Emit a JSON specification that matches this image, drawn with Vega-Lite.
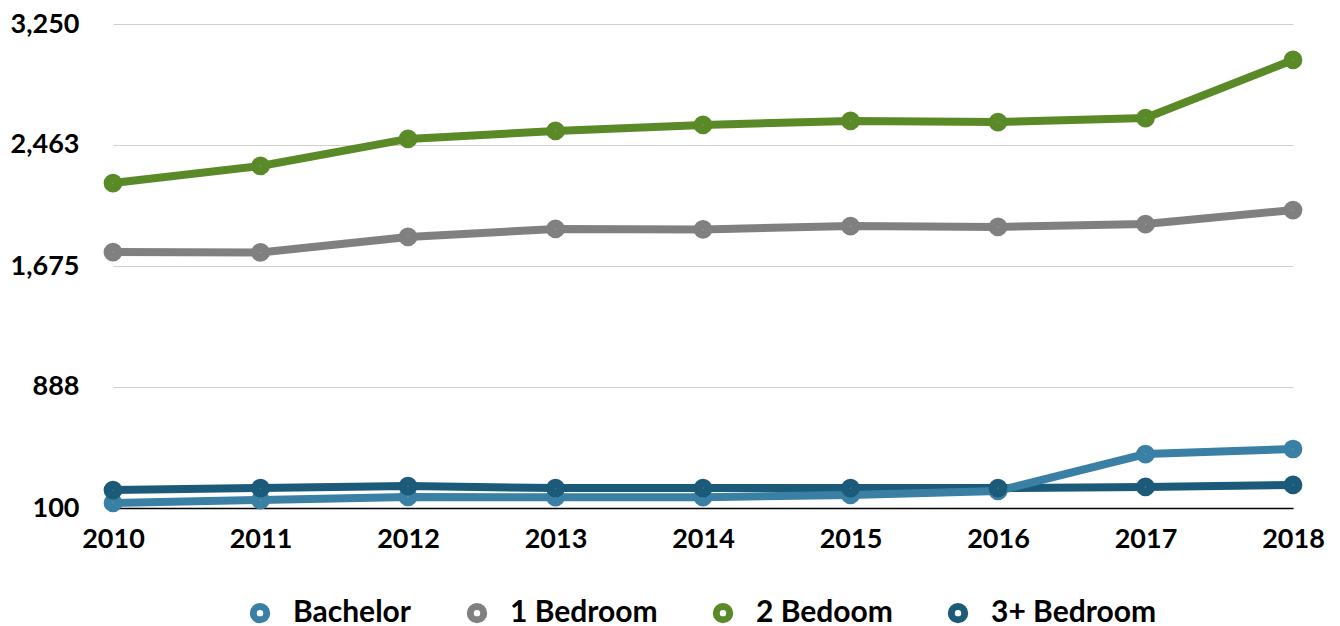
{
  "$schema": "https://vega.github.io/schema/vega-lite/v6.json",
  "width": 1180,
  "height": 484,
  "autosize": {"type": "none"},
  "padding": {"left": 113, "top": 24, "right": 47, "bottom": 118},
  "background": "white",
  "data": {"values": [
    {"year": "2010", "type": "Bachelor", "value": 133},
    {"year": "2011", "type": "Bachelor", "value": 152},
    {"year": "2012", "type": "Bachelor", "value": 172},
    {"year": "2013", "type": "Bachelor", "value": 170},
    {"year": "2014", "type": "Bachelor", "value": 170},
    {"year": "2015", "type": "Bachelor", "value": 185},
    {"year": "2016", "type": "Bachelor", "value": 211},
    {"year": "2017", "type": "Bachelor", "value": 451},
    {"year": "2018", "type": "Bachelor", "value": 484},
    {"year": "2010", "type": "1 Bedroom", "value": 1766},
    {"year": "2011", "type": "1 Bedroom", "value": 1763},
    {"year": "2012", "type": "1 Bedroom", "value": 1864},
    {"year": "2013", "type": "1 Bedroom", "value": 1916},
    {"year": "2014", "type": "1 Bedroom", "value": 1913},
    {"year": "2015", "type": "1 Bedroom", "value": 1935},
    {"year": "2016", "type": "1 Bedroom", "value": 1929},
    {"year": "2017", "type": "1 Bedroom", "value": 1948},
    {"year": "2018", "type": "1 Bedroom", "value": 2039},
    {"year": "2010", "type": "2 Bedoom", "value": 2215},
    {"year": "2011", "type": "2 Bedoom", "value": 2326},
    {"year": "2012", "type": "2 Bedoom", "value": 2502},
    {"year": "2013", "type": "2 Bedoom", "value": 2554},
    {"year": "2014", "type": "2 Bedoom", "value": 2593},
    {"year": "2015", "type": "2 Bedoom", "value": 2619},
    {"year": "2016", "type": "2 Bedoom", "value": 2612},
    {"year": "2017", "type": "2 Bedoom", "value": 2638},
    {"year": "2018", "type": "2 Bedoom", "value": 3016},
    {"year": "2010", "type": "3+ Bedroom", "value": 217},
    {"year": "2011", "type": "3+ Bedroom", "value": 230},
    {"year": "2012", "type": "3+ Bedroom", "value": 243},
    {"year": "2013", "type": "3+ Bedroom", "value": 230},
    {"year": "2014", "type": "3+ Bedroom", "value": 230},
    {"year": "2015", "type": "3+ Bedroom", "value": 230},
    {"year": "2016", "type": "3+ Bedroom", "value": 230},
    {"year": "2017", "type": "3+ Bedroom", "value": 237},
    {"year": "2018", "type": "3+ Bedroom", "value": 250}
  ]},
  "encoding": {
    "x": {
      "field": "year", "type": "ordinal",
      "scale": {"type": "point", "padding": 0},
      "axis": {
        "title": null, "labelAngle": 0, "labelFont": "Lato", "labelFontSize": 27, "labelFontWeight": "bold",
        "labelColor": "black", "labelPadding": 18, "ticks": false, "domainColor": "black", "domainWidth": 1.5, "grid": false
      }
    },
    "y": {
      "field": "value", "type": "quantitative",
      "scale": {"domain": [100, 3250], "nice": false, "zero": false},
      "axis": {
        "title": null, "values": [100, 888, 1675, 2463, 3250], "format": ",d",
        "labelFont": "Lato", "labelFontSize": 27, "labelFontWeight": "bold", "labelColor": "black",
        "labelPadding": 34, "ticks": false, "domain": false, "gridColor": "#d0d0d0", "gridWidth": 1
      }
    },
    "color": {
      "field": "type", "type": "nominal",
      "scale": {
        "domain": ["Bachelor", "1 Bedroom", "2 Bedoom", "3+ Bedroom"],
        "range": ["#3a80a4", "#808080", "#5a8a27", "#1b5a79"]
      },
      "legend": {
        "title": null, "orient": "none", "direction": "horizontal", "legendX": 132, "legendY": 574,
        "labelFont": "Lato", "labelFontSize": 30, "labelFontWeight": "bold", "labelColor": "black", "labelLimit": 400,
        "symbolType": "circle", "symbolSize": 180, "symbolStrokeWidth": 7, "symbolFillColor": "white",
        "columnPadding": 44, "labelOffset": 18, "symbolOffset": 0,
        "encode": {"symbols": {"update": {"strokeWidth": {"value": 7}, "size": {"value": 180}, "fill": {"value": "white"}}}}
      }
    }
  },
  "layer": [
    {
      "transform": [{"filter": "datum.type != 'Bachelor'"}],
      "mark": {"type": "line", "strokeWidth": 8}
    },
    {
      "transform": [{"filter": "datum.type == 'Bachelor'"}],
      "mark": {"type": "line", "strokeWidth": 8}
    },
    {
      "mark": {"type": "point", "filled": false, "fill": "white", "fillOpacity": 1, "size": 95, "strokeWidth": 9, "opacity": 1}
    }
  ],
  "config": {"view": {"stroke": null}}
}
